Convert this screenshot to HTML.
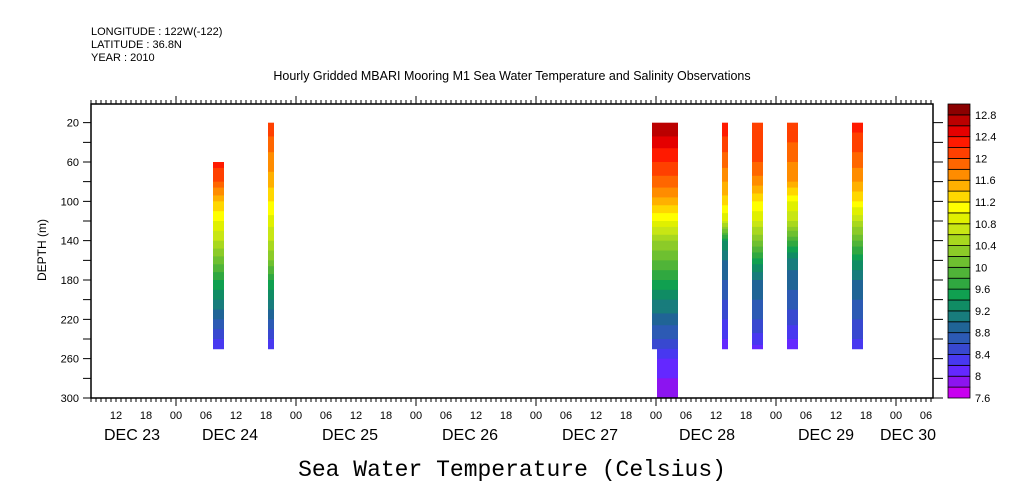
<!DOCTYPE html>
<html><head><meta charset="utf-8"><style>
body{margin:0;background:#fff;}
svg{display:block;font-family:"Liberation Sans",sans-serif;}
</style></head><body>
<svg id="chart" width="1009" height="504" viewBox="0 0 1009 504" xmlns="http://www.w3.org/2000/svg">
<rect width="1009" height="504" fill="#fff"/>
<g font-size="11" fill="#000">
<text x="91" y="35">LONGITUDE : 122W(-122)</text>
<text x="91" y="48">LATITUDE : 36.8N</text>
<text x="91" y="61">YEAR : 2010</text>
</g>
<text x="512" y="80" font-size="12.5" text-anchor="middle">Hourly Gridded MBARI Mooring M1 Sea Water Temperature and Salinity Observations</text>
<g id="marks"></g>
<g id="axes"></g>
<text transform="translate(46,250) rotate(-90)" font-size="12" text-anchor="middle">DEPTH (m)</text>
<text x="512" y="476" font-size="23" text-anchor="middle" font-family="Liberation Mono, monospace">Sea Water Temperature (Celsius)</text>
<g id="colorbar"></g>
</svg>
<script>
// ---- data ----
const depthGrid = [20,40,60,80,100,120,140,160,180,200,220,240,260,280,300];
const barStarts = [31.4, 42.4, 119.2, 120.2, 133.2, 139.2, 146.2, 159.2]; // hours since Dec 23 00:00
const barEnds   = [33.6, 43.6, 120.2, 124.4, 134.4, 141.4, 148.4, 161.4];
const barTops   = [60, 20, 20, 20, 20, 20, 20, 20];
const barBottoms= [250, 250, 250, 300, 250, 250, 250, 250];
const profileA = [12.6,12.5,12.3,12.0,11.4,11.0,10.6,10.1,9.6,9.2,8.8,8.4,8.2,8.2,8.2];
const profileB = [12.2,11.9,11.7,11.5,11.2,10.9,10.6,10.2,9.6,9.2,8.8,8.4,8.2,8.2,8.2];
const profileC1= [12.8,12.5,12.2,11.9,11.5,11.0,10.4,10.0,9.6,9.2,8.9,8.6,8.3,8.3,8.3];
const profileC2= [12.8,12.5,12.2,11.9,11.5,11.0,10.4,10.0,9.6,9.2,8.9,8.6,8.2,8.0,7.8];
const profileD = [12.4,12.1,11.9,11.6,11.3,10.8,9.4,9.0,8.8,8.6,8.4,8.2,8.0,8.0,8.0];
const profileE = [12.2,12.1,12.0,11.7,11.2,10.8,10.2,9.5,9.0,8.8,8.6,8.3,8.0,8.0,8.0];
const profileF = [12.2,12.0,11.8,11.6,11.0,10.6,9.8,9.1,8.9,8.7,8.5,8.2,8.0,8.0,8.0];
const profileG = [12.3,12.1,11.9,11.6,11.2,10.6,10.0,9.4,9.0,8.8,8.6,8.4,8.3,8.3,8.3];
const profiles = [profileA, profileB, profileC1, profileC2, profileD, profileE, profileF, profileG];
const levelColors = ["#c800f0","#8c14f0","#6428ff","#4838f0","#3848d0","#2c5ab4","#206496","#187c7c","#108c64","#10a050","#30a840","#50b438","#6ec030","#8ccb28","#a8d81e","#c8e614","#e0f000","#ffff00","#ffd700","#ffb000","#ff8c00","#ff6600","#ff4000","#ff1a00","#e50000","#bb0000","#8b0000"];
const levelLabels = ["7.6","8","8.4","8.8","9.2","9.6","10","10.4","10.8","11.2","11.6","12","12.4","12.8"];
const depthTicks = [20,60,100,140,180,220,260,300];
const hourTicks = [12,18,0,6,12,18,0,6,12,18,0,6,12,18,0,6,12,18,0,6,12,18,0,6,12,18,0,6];
const dateLabels = ["DEC 23","DEC 24","DEC 25","DEC 26","DEC 27","DEC 28","DEC 29","DEC 30"];
const dateLabelHours = [15.2, 34.8, 58.8, 82.8, 106.8, 130.2, 154, 170.4];

// ---- scales ----
const X0=91,X1=933,Y0=104,Y1=398;
const x = h => 56 + 5*h;
const y = d => Y0 + (d-1)*(Y1-Y0)/299;
const tMin=7.6, tStep=0.2;
const colorOf = t => levelColors[Math.max(0,Math.min(26,Math.floor((t-tMin)/tStep+1e-6)))];
const NS="http://www.w3.org/2000/svg";
function mk(tag, attrs, parent){const e=document.createElementNS(NS,tag);for(const k in attrs)e.setAttribute(k,attrs[k]);parent.appendChild(e);return e;}
function sample(p,d){const i=Math.min(depthGrid.length-2,Math.max(0,Math.floor((d-20)/20)));const f=Math.max(0,Math.min(1,(d-depthGrid[i])/20));return p[i]+(p[i+1]-p[i])*f;}

const marks=document.getElementById('marks');
profiles.forEach((p,b)=>{
  const g=mk('g',{},marks);
  
  
  const xa=x(barStarts[b]), xb=x(barEnds[b]);
  for(let d=barTops[b]; d<barBottoms[b]; d+=2){
    const d2=Math.min(d+2,barBottoms[b]);
    const r=mk('rect',{x:xa,y:y(d),width:xb-xa,height:y(d2)-y(d)+0.4,fill:colorOf(sample(p,(d+d2)/2))},g);
    
    
  }
});

const axes=document.getElementById('axes');
const frame=mk('rect',{x:X0,y:Y0,width:X1-X0,height:Y1-Y0,fill:'none',stroke:'#000','stroke-width':1.5},axes);


let tp='';
for(let h=7;h<=175;h++){const xx=x(h);if(xx<X0||xx>X1)continue;const L=(h%24===0)?8:4;tp+=`M${xx} ${Y1}v${L}M${xx} ${Y0}v${-L}`;}
for(let d=20;d<=300;d+=20){const yy=y(d);tp+=`M${X0} ${yy}h-8M${X1} ${yy}h10`;}
const ticks=mk('path',{d:tp,stroke:'#000','stroke-width':1,fill:'none'},axes);


depthTicks.forEach(d=>{const t=mk('text',{x:X0-12,y:y(d)+4,'font-size':11,'text-anchor':'end'},axes);t.textContent=d;
 
 });
hourTicks.forEach((hv,i)=>{const h=12+6*i;const t=mk('text',{x:x(h),y:419,'font-size':11,'text-anchor':'middle'},axes);t.textContent=String(hv).padStart(2,'0');
 
 });
dateLabels.forEach((s,i)=>{const t=mk('text',{x:x(dateLabelHours[i]),y:440,'font-size':16,'text-anchor':'middle'},axes);t.textContent=s;
 
 });

const cb=document.getElementById('colorbar');


const CX=948,CW=22,bh=(Y1-Y0)/27;
levelColors.forEach((c,i)=>{const r=mk('rect',{x:CX,y:Y1-(i+1)*bh,width:CW,height:bh,fill:c,stroke:'#000','stroke-width':0.8},cb);
 
 });
levelLabels.forEach((s,i)=>{const t=mk('text',{x:CX+CW+5,y:Y1-i*2*bh+4,'font-size':11},cb);t.textContent=s;
 
 });
</script>
</body></html>
